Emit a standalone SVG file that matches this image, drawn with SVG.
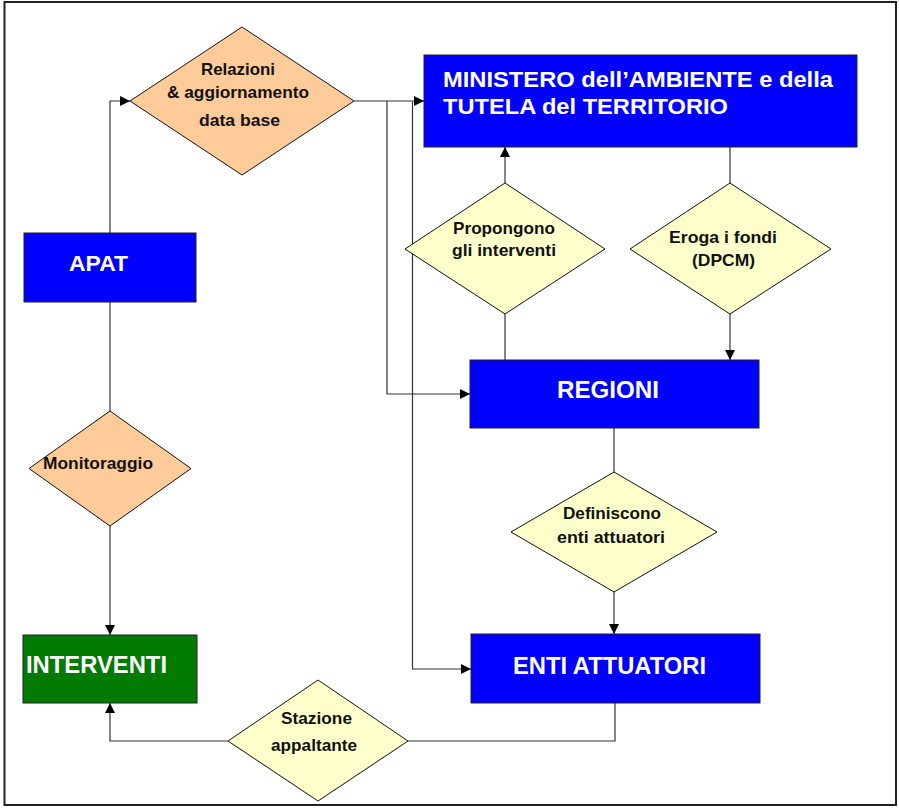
<svg xmlns="http://www.w3.org/2000/svg" width="899" height="811" viewBox="0 0 899 811">
<style>
.frame{fill:#fff;stroke:#222;stroke-width:2}
.box{stroke:#222;stroke-width:1}
.blue{fill:#0000FF}
.green{fill:#007A00}
.peach{fill:#FFCC99;stroke:#111;stroke-width:1}
.yellow{fill:#FFFFCC;stroke:#111;stroke-width:1}
.bt{font-family:"Liberation Sans",Arial,sans-serif;font-weight:bold;fill:#fff;font-size:22px}
.big{font-size:23.5px}
.dt{font-family:"Liberation Sans",Arial,sans-serif;font-weight:bold;fill:#111;font-size:16.5px}
.conn path{fill:none;stroke:#333;stroke-width:1.2}
</style>
<defs>
<marker id="arr" markerUnits="userSpaceOnUse" markerWidth="12" markerHeight="12" refX="10" refY="5" orient="auto">
<path d="M0,0 L10,5 L0,10 Z" fill="#000"/>
</marker>
</defs>
<rect class="frame" x="4.5" y="2" width="891.5" height="803"/>

<g class="conn">
<path d="M110 233 V101 H130" marker-end="url(#arr)"/>
<path d="M354 101 H424" marker-end="url(#arr)"/>
<path d="M387 101 V394 H470" marker-end="url(#arr)"/>
<path d="M412.5 101.5 V669 H471" marker-end="url(#arr)"/>
<path d="M505 360 V314"/>
<path d="M505 183 V147" marker-end="url(#arr)"/>
<path d="M730 147 V183"/>
<path d="M730 314 V360" marker-end="url(#arr)"/>
<path d="M614 428 V472"/>
<path d="M614 592 V634" marker-end="url(#arr)"/>
<path d="M615 703 V741 H408"/>
<path d="M228 741 H110 V703" marker-end="url(#arr)"/>
<path d="M110 302 V411"/>
<path d="M110 526 V635" marker-end="url(#arr)"/>
</g>

<g id="relazioni">
<polygon class="peach" points="242,27 354,101 242,175 130,101"/>
<text class="dt" x="201" y="75" textLength="74" lengthAdjust="spacingAndGlyphs">Relazioni</text>
<text class="dt" x="167" y="98" textLength="142" lengthAdjust="spacingAndGlyphs">&amp; aggiornamento</text>
<text class="dt" x="199" y="126" textLength="81" lengthAdjust="spacingAndGlyphs">data base</text>
</g>

<g id="ministero">
<rect class="box blue" x="424" y="55" width="433" height="92"/>
<text class="bt" x="443" y="87" textLength="390" lengthAdjust="spacingAndGlyphs">MINISTERO dell’AMBIENTE e della</text>
<text class="bt" x="443" y="114" textLength="285" lengthAdjust="spacingAndGlyphs">TUTELA del TERRITORIO</text>
</g>

<g id="apat">
<rect class="box blue" x="24" y="233" width="172" height="69"/>
<text class="bt" x="69" y="271" textLength="59" lengthAdjust="spacingAndGlyphs">APAT</text>
</g>

<g id="propongono">
<polygon class="yellow" points="505,183 605,249 505,314 405,249"/>
<text class="dt" x="453" y="234" textLength="102" lengthAdjust="spacingAndGlyphs">Propongono</text>
<text class="dt" x="452" y="256" textLength="104" lengthAdjust="spacingAndGlyphs">gli interventi</text>
</g>

<g id="eroga">
<polygon class="yellow" points="730,183 831,249 730,314 630,249"/>
<text class="dt" x="669" y="243" textLength="108" lengthAdjust="spacingAndGlyphs">Eroga i fondi</text>
<text class="dt" x="692" y="266" textLength="63" lengthAdjust="spacingAndGlyphs">(DPCM)</text>
</g>

<g id="regioni">
<rect class="box blue" x="470" y="360" width="289" height="68"/>
<text class="bt big" x="557" y="398" textLength="102" lengthAdjust="spacingAndGlyphs">REGIONI</text>
</g>

<g id="monitoraggio">
<polygon class="peach" points="110,411 191,468.5 110,526 29,468.5"/>
<text class="dt" x="43" y="469" textLength="110" lengthAdjust="spacingAndGlyphs">Monitoraggio</text>
</g>

<g id="definiscono">
<polygon class="yellow" points="614,472 717,532 614,592 511,532"/>
<text class="dt" x="563" y="519" textLength="98" lengthAdjust="spacingAndGlyphs">Definiscono</text>
<text class="dt" x="557" y="543" textLength="108" lengthAdjust="spacingAndGlyphs">enti attuatori</text>
</g>

<g id="interventi">
<rect class="box green" x="23" y="635" width="174" height="68"/>
<text class="bt big" x="26" y="673" textLength="141" lengthAdjust="spacingAndGlyphs">INTERVENTI</text>
</g>

<g id="enti">
<rect class="box blue" x="471" y="634" width="289" height="69"/>
<text class="bt big" x="513" y="674" textLength="193" lengthAdjust="spacingAndGlyphs">ENTI ATTUATORI</text>
</g>

<g id="stazione">
<polygon class="yellow" points="318,680 408,741 318,801 228,741"/>
<text class="dt" x="281" y="724" textLength="71" lengthAdjust="spacingAndGlyphs">Stazione</text>
<text class="dt" x="271" y="751" textLength="86" lengthAdjust="spacingAndGlyphs">appaltante</text>
</g>
</svg>
